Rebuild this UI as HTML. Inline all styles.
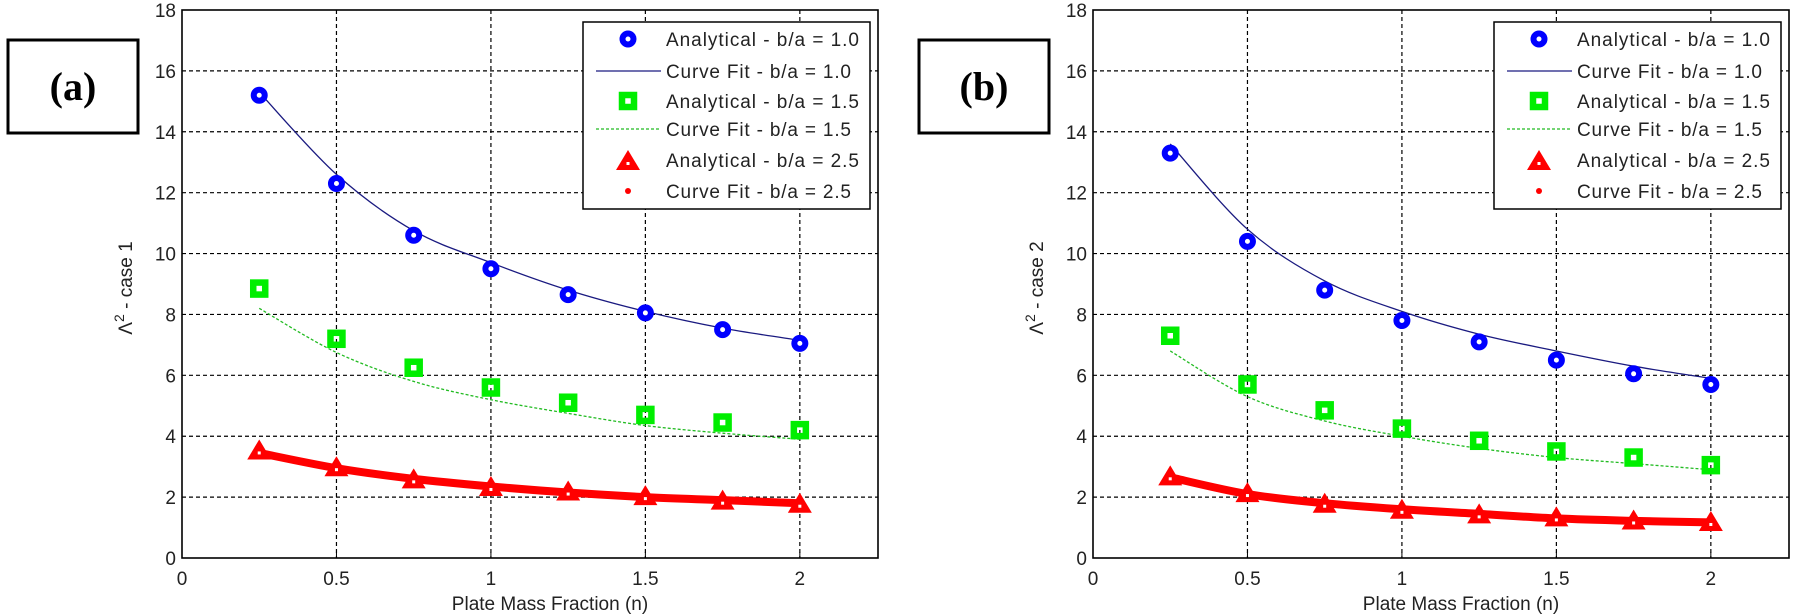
<!DOCTYPE html>
<html><head><meta charset="utf-8">
<style>
html,body{margin:0;padding:0;background:#fff;}
svg{display:block;}
text{font-family:"Liberation Sans",Arial,sans-serif;fill:#222;}
</style></head>
<body>
<svg id="fig" width="1799" height="614" viewBox="0 0 1799 614" xmlns="http://www.w3.org/2000/svg"></svg>
<script>
const xValues = [0.25, 0.5, 0.75, 1.0, 1.25, 1.5, 1.75, 2.0];
const xTicks = [0, 0.5, 1, 1.5, 2];
const xTickLabels = ["0", "0.5", "1", "1.5", "2"];
const yTicks = [0, 2, 4, 6, 8, 10, 12, 14, 16, 18];
const yTickLabels = ["0", "2", "4", "6", "8", "10", "12", "14", "16", "18"];
// case 1
const c1Blue = [15.2, 12.3, 10.6, 9.5, 8.65, 8.05, 7.5, 7.05];
const c1BlueFit = [15.3, 12.6, 10.75, 9.7, 8.8, 8.1, 7.55, 7.15];
const c1Green = [8.85, 7.2, 6.25, 5.6, 5.1, 4.7, 4.45, 4.2];
const c1GreenFit = [8.2, 6.75, 5.8, 5.2, 4.75, 4.35, 4.1, 3.9];
const c1Red = [3.5, 2.95, 2.55, 2.3, 2.15, 2.0, 1.85, 1.75];
const c1RedFit = [3.45, 2.95, 2.6, 2.35, 2.15, 2.0, 1.9, 1.8];
// case 2
const c2Blue = [13.3, 10.4, 8.8, 7.8, 7.1, 6.5, 6.05, 5.7];
const c2BlueFit = [13.6, 10.8, 9.1, 8.1, 7.35, 6.8, 6.3, 5.9];
const c2Green = [7.3, 5.7, 4.85, 4.25, 3.85, 3.5, 3.3, 3.05];
const c2GreenFit = [6.8, 5.3, 4.5, 4.0, 3.6, 3.3, 3.1, 2.9];
const c2Red = [2.65, 2.1, 1.75, 1.55, 1.4, 1.3, 1.2, 1.15];
const c2RedFit = [2.65, 2.1, 1.8, 1.6, 1.45, 1.3, 1.22, 1.17];
const legendLabels = ["Analytical - b/a = 1.0","Curve Fit - b/a = 1.0","Analytical - b/a = 1.5","Curve Fit - b/a = 1.5","Analytical - b/a = 2.5","Curve Fit - b/a = 2.5"];

const NS = "http://www.w3.org/2000/svg";
const svg = document.getElementById('fig');
function mk(tag, attrs, parent){
  const e = document.createElementNS(NS, tag);
  for (const k in attrs) e.setAttribute(k, attrs[k]);
  (parent||svg).appendChild(e);
  return e;
}
function smoothPath(pts){
  let d = `M${pts[0][0]},${pts[0][1]}`;
  for (let i=0;i<pts.length-1;i++){
    const p0=pts[Math.max(0,i-1)], p1=pts[i], p2=pts[i+1], p3=pts[Math.min(pts.length-1,i+2)];
    const c1x=p1[0]+(p2[0]-p0[0])/6, c1y=p1[1]+(p2[1]-p0[1])/6;
    const c2x=p2[0]-(p3[0]-p1[0])/6, c2y=p2[1]-(p3[1]-p1[1])/6;
    d += ` C${c1x},${c1y} ${c2x},${c2y} ${p2[0]},${p2[1]}`;
  }
  return d;
}
function circleMarker(g,x,y){ mk('circle',{cx:x,cy:y,r:5.5,fill:'#fff',stroke:'#0000ff','stroke-width':6},g); }
function squareMarker(g,x,y){ mk('rect',{x:x-6,y:y-6,width:12,height:12,fill:'none',stroke:'#00ee00','stroke-width':6.5},g); }
function triMarker(g,x,y){ mk('polygon',{points:`${x},${y-12} ${x+12},${y+8} ${x-12},${y+8}`,fill:'#ff0000'},g); mk('rect',{x:x-1.5,y:y,width:3,height:3,fill:'#fff'},g); }

function drawChart(opt){
  const L=opt.left, R=opt.right, T=10, B=558, xmax=opt.xmax, ymax=18;
  const X = v => L + v/xmax*(R-L);
  const Y = v => B - v/ymax*(B-T);
  const g = mk('g',{});
  
  
  xTicks.forEach((t,i)=>{
    if (t>0){ const l=mk('line',{x1:X(t),x2:X(t),y1:T,y2:B,stroke:'#000','stroke-width':1.2,'stroke-dasharray':'4,3'},g);
        }
    const tx=mk('text',{x:X(t),y:B+27,'font-size':19,'text-anchor':'middle'},g); tx.textContent=xTickLabels[i];
     
    mk('line',{x1:X(t),x2:X(t),y1:B,y2:B-6,stroke:'#000'},g);
  });
  yTicks.forEach((t,i)=>{
    if (t>0 && t<ymax){ const l=mk('line',{x1:L,x2:R,y1:Y(t),y2:Y(t),stroke:'#000','stroke-width':1.2,'stroke-dasharray':'4,3'},g);
        }
    const tx=mk('text',{x:L-6,y:Y(t)+7,'font-size':19,'text-anchor':'end'},g); tx.textContent=yTickLabels[i];
     
  });
  const frame=mk('rect',{x:L,y:T,width:R-L,height:B-T,fill:'none',stroke:'#000','stroke-width':1.6},g);
   
  const pts = arr => xValues.map((v,i)=>[X(v),Y(arr[i])]);
  const bf=mk('path',{d:smoothPath(pts(opt.blueFit)),fill:'none',stroke:'#1a1a80','stroke-width':1.3},g);
   
  const gf=mk('path',{d:smoothPath(pts(opt.greenFit)),fill:'none',stroke:'#22bb22','stroke-width':1.3,'stroke-dasharray':'3,2'},g);
   
  const rf=mk('path',{d:smoothPath(pts(opt.redFit)),fill:'none',stroke:'#ff0000','stroke-width':8},g);
   
  xValues.forEach((v,i)=>{
    const m1=mk('g',{},g);  
    circleMarker(m1,X(v),Y(opt.blue[i]));
    const m2=mk('g',{},g);  
    squareMarker(m2,X(v),Y(opt.green[i]));
    const m3=mk('g',{},g);  
    triMarker(m3,X(v),Y(opt.red[i]));
  });
  const xt=mk('text',{x:(L+R)/2+20,y:610,'font-size':19,'text-anchor':'middle'},g);
  xt.textContent='Plate Mass Fraction (n)';
   
  const yt=mk('text',{x:0,y:0,'font-size':19,'text-anchor':'middle',transform:`translate(${L-50},288) rotate(-90)`},g);
  yt.innerHTML='Λ<tspan dy="-8" font-size="14">2</tspan><tspan dy="8"> - '+opt.ylab+'</tspan>';
   
  const lg=mk('g',{},g);  
  const lx=opt.legendX, ly=22;
  mk('rect',{x:lx,y:ly,width:287,height:187,fill:'#fff',stroke:'#000','stroke-width':1.5},lg);
  const rows=[39,71,101,129,160,191];
  rows.forEach((ry,i)=>{
    const e=mk('g',{},lg);  
    const mx=lx+45;
    if(i===0) circleMarker(e,mx,ry);
    if(i===1) mk('line',{x1:lx+13,x2:lx+78,y1:ry,y2:ry,stroke:'#1a1a80','stroke-width':1.3},e);
    if(i===2) squareMarker(e,mx,ry);
    if(i===3) mk('line',{x1:lx+13,x2:lx+78,y1:ry,y2:ry,stroke:'#22bb22','stroke-width':1.3,'stroke-dasharray':'3,2'},e);
    if(i===4) triMarker(e,mx,ry+2);
    if(i===5) mk('circle',{cx:mx,cy:ry,r:3,fill:'#ff0000'},e);
    const t=mk('text',{x:lx+83,y:ry+7,'font-size':19},e);
    t.setAttribute('textLength', i%2===0?193:185);
    t.textContent=legendLabels[i];
  });
  const pb=mk('g',{},svg);  
  mk('rect',{x:opt.boxX,y:40,width:130,height:93,fill:'#fff',stroke:'#000','stroke-width':3},pb);
  const pt=mk('text',{x:opt.boxX+65,y:100,'font-size':40,'font-weight':'bold','text-anchor':'middle',style:'font-family:"Liberation Serif",serif;fill:#000'},pb);
  pt.textContent=opt.panel;
}
drawChart({name:'chart-case-1',left:182,right:878,xmax:2.253,blue:c1Blue,blueFit:c1BlueFit,green:c1Green,greenFit:c1GreenFit,red:c1Red,redFit:c1RedFit,legendX:583,ylab:'case 1',boxX:8,panel:'(a)'});
drawChart({name:'chart-case-2',left:1093,right:1789,xmax:2.253,blue:c2Blue,blueFit:c2BlueFit,green:c2Green,greenFit:c2GreenFit,red:c2Red,redFit:c2RedFit,legendX:1494,ylab:'case 2',boxX:919,panel:'(b)'});
</script>
</body></html>
